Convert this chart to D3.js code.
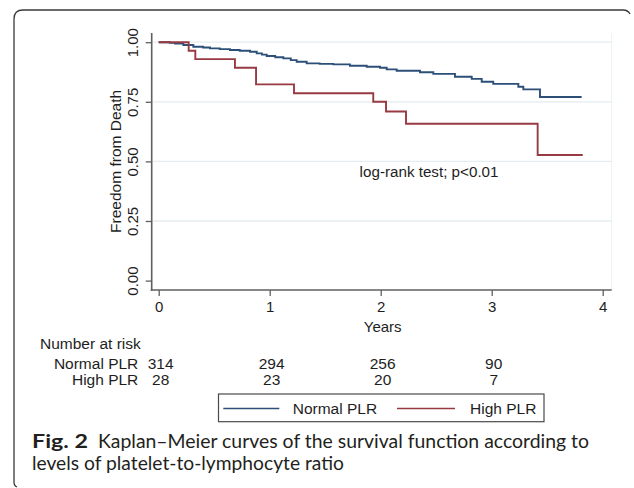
<!DOCTYPE html>
<html>
<head>
<meta charset="utf-8">
<script src="https://cdn.jsdelivr.net/npm/d3@7"></script>
<style>
  html, body { margin: 0; padding: 0; background: #fff; }
  svg { display: block; }
</style>
</head>
<body>
<div id="chart"></div>
<script>
(function(){
    "use strict";

    //====================================
    // data
    var seriesNames = ["Normal PLR", "High PLR"];
    var seriesColors = ["#2c4f78", "#983a42"];

    // Normal PLR: step times (years) and survival
    var normalTimes = [0, 0.10, 0.147, 0.222, 0.312, 0.40, 0.462, 0.55, 0.642, 0.73, 0.823, 0.883, 0.93,
        0.973, 1.05, 1.123, 1.19, 1.243, 1.333, 1.45, 1.573, 1.723, 1.874, 1.994, 2.054, 2.144,
        2.354, 2.474, 2.669, 2.82, 2.91, 3.014, 3.24, 3.285, 3.435];
    var normalSurv = [1, 0.997, 0.994, 0.988, 0.981, 0.978, 0.974, 0.971, 0.967, 0.964, 0.960, 0.953, 0.948,
        0.942, 0.937, 0.932, 0.925, 0.918, 0.911, 0.909, 0.907, 0.901, 0.897, 0.893, 0.886, 0.880,
        0.874, 0.867, 0.855, 0.846, 0.834, 0.825, 0.813, 0.802, 0.770];
    var normalEnd = 3.81;

    // High PLR
    var highTimes = [0, 0.27, 0.33, 0.687, 0.877, 1.219, 1.933, 2.048, 2.228, 3.414];
    var highSurv = [1, 0.964, 0.929, 0.893, 0.823, 0.786, 0.750, 0.709, 0.658, 0.527];
    var highEnd = 3.82;

    var xTicks = [0, 1, 2, 3, 4];
    var yTicks = [0, 0.25, 0.5, 0.75, 1];
    var gridValues = [0.25, 0.5, 0.75, 1];

    var riskTimes = [0, 1, 2, 3];
    var riskNormal = [314, 294, 256, 90];
    var riskHigh = [28, 23, 20, 7];

    var annotText = "log-rank test; p<0.01";
    var annotPos = [1.81, 0.435];

    var captionBold = "Fig. 2";
    var captionLines = ["Kaplan\u2013Meier curves of the survival function according to",
        "levels of platelet-to-lymphocyte ratio"];

    //====================================
    var W = 634, H = 488;
    var font = "'Liberation Sans', Arial, sans-serif";
    var ink = "#1e1e1e";
    var axisColor = "#5f5f5f";

    var svg = d3.select("#chart").append("svg")
        .attr("width", W)
        .attr("height", H)
        .style("font-family", font);

    // outer figure frame (open on the right and bottom)
    svg.append("path")
        .attr("d", "M630,14 Q628,10 623,10 L23,10 Q14,10 14,19 L14,482 Q14,486 17,487")
        .attr("fill", "none")
        .attr("stroke", "#3a3a3a")
        .attr("stroke-width", 1.3);

    var x = d3.scaleLinear().domain([0, 4]).range([158.7, 602.7]);
    var y = d3.scaleLinear().domain([0, 1]).range([280.6, 42.2]);

    var axisX = 151.7, axisY = 290, plotRight = 611.7, plotTop = 33;

    // faint plot region edge
    svg.append("line")
        .attr("x1", plotRight).attr("x2", plotRight)
        .attr("y1", plotTop).attr("y2", axisY)
        .attr("stroke", "#eef2f4").attr("stroke-width", 1);

    // grid
    svg.append("g").selectAll("line")
        .data(gridValues)
        .enter().append("line")
        .attr("x1", axisX + 1).attr("x2", plotRight)
        .attr("y1", function(d){ return y(d); })
        .attr("y2", function(d){ return y(d); })
        .attr("stroke", "#e6ecef")
        .attr("stroke-width", 1.3);

    // y axis
    var gy = svg.append("g")
        .attr("transform", "translate(" + axisX + ",0)")
        .call(d3.axisLeft(y).tickValues(yTicks).tickFormat(d3.format(".2f")).tickSize(6).tickSizeOuter(0));
    gy.select(".domain").remove();
    gy.selectAll(".tick line").attr("stroke", axisColor).attr("stroke-width", 1.3);
    gy.selectAll(".tick text")
        .attr("x", null).attr("dy", null)
        .attr("transform", "translate(-12,0) rotate(-90)")
        .attr("text-anchor", "middle")
        .attr("dominant-baseline", "auto")
        .attr("y", -2)
        .attr("fill", ink)
        .style("font-size", "15px")
        .style("font-family", font);
    svg.append("line")
        .attr("x1", axisX).attr("x2", axisX)
        .attr("y1", plotTop).attr("y2", axisY + 0.7)
        .attr("stroke", axisColor).attr("stroke-width", 1.6);

    // x axis
    var gx = svg.append("g")
        .attr("transform", "translate(0," + axisY + ")")
        .call(d3.axisBottom(x).tickValues(xTicks).tickFormat(d3.format("d")).tickSize(6).tickSizeOuter(0));
    gx.select(".domain").remove();
    gx.selectAll(".tick line").attr("stroke", axisColor).attr("stroke-width", 1.3);
    gx.selectAll(".tick text")
        .attr("y", 11).attr("dy", "0.71em")
        .attr("fill", ink)
        .style("font-size", "15px")
        .style("font-family", font);
    svg.append("line")
        .attr("x1", axisX - 1).attr("x2", plotRight)
        .attr("y1", axisY).attr("y2", axisY)
        .attr("stroke", axisColor).attr("stroke-width", 1.6);

    // axis titles
    svg.append("text")
        .attr("transform", "translate(121," + ((y(0) + y(1)) / 2) + ") rotate(-90)")
        .attr("text-anchor", "middle")
        .attr("fill", ink)
        .style("font-size", "15.5px")
        .text("Freedom from Death");
    svg.append("text")
        .attr("x", x(2) + 2).attr("y", 332)
        .attr("text-anchor", "middle")
        .attr("fill", ink)
        .style("font-size", "15px")
        .text("Years");

    // KM step curves
    function stepPoints(times, surv, end){
        var pts = times.map(function(t, i){ return [t, surv[i]]; });
        pts.push([end, surv[surv.length - 1]]);
        return pts;
    }
    var line = d3.line()
        .x(function(d){ return x(d[0]); })
        .y(function(d){ return y(d[1]); })
        .curve(d3.curveStepAfter);

    var curves = [stepPoints(normalTimes, normalSurv, normalEnd), stepPoints(highTimes, highSurv, highEnd)];
    svg.append("g").selectAll("path")
        .data(curves)
        .enter().append("path")
        .attr("d", line)
        .attr("fill", "none")
        .attr("stroke", function(d, i){ return seriesColors[i]; })
        .attr("stroke-width", 1.9);

    // annotation
    svg.append("text")
        .attr("x", x(annotPos[0])).attr("y", y(annotPos[1]))
        .attr("fill", ink)
        .style("font-size", "15.2px")
        .text(annotText);

    // number at risk table
    svg.append("text")
        .attr("x", 40).attr("y", 349)
        .attr("fill", ink)
        .style("font-size", "15.5px")
        .text("Number at risk");
    var riskRows = [riskNormal, riskHigh];
    var rowBase = [369, 385];
    riskRows.forEach(function(row, r){
        svg.append("text")
            .attr("x", 138.3).attr("y", rowBase[r])
            .attr("text-anchor", "end")
            .attr("fill", ink)
            .style("font-size", "15.5px")
            .text(seriesNames[r]);
        svg.append("g").selectAll("text")
            .data(row)
            .enter().append("text")
            .attr("x", function(d, i){ return x(riskTimes[i]) + 2; })
            .attr("y", rowBase[r])
            .attr("text-anchor", "middle")
            .attr("fill", ink)
            .style("font-size", "15.5px")
            .text(function(d){ return d; });
    });

    // legend
    var lg = svg.append("g");
    lg.append("rect")
        .attr("x", 218.5).attr("y", 394)
        .attr("width", 325.5).attr("height", 27.7)
        .attr("fill", "#fff")
        .attr("stroke", "#4a4a4a")
        .attr("stroke-width", 1.2);
    var legendLineX = [223.3, 397];
    var legendLineW = [56, 58];
    var legendTextX = [292.7, 470];
    seriesNames.forEach(function(name, i){
        lg.append("line")
            .attr("x1", legendLineX[i]).attr("x2", legendLineX[i] + legendLineW[i])
            .attr("y1", 408.5).attr("y2", 408.5)
            .attr("stroke", seriesColors[i])
            .attr("stroke-width", 1.5);
        lg.append("text")
            .attr("x", legendTextX[i]).attr("y", 414)
            .attr("fill", ink)
            .style("font-size", "15.5px")
            .text(name);
    });

    // caption: separate pieces, squeezed to the widths seen in the figure
    var capFont = "Lato, 'Open Sans', sans-serif";
    var capSize = "18.5px";
    var capColor = "#231f20";
    svg.append("text")
        .attr("x", 32).attr("y", 447.5)
        .attr("fill", capColor)
        .attr("textLength", 56)
        .attr("lengthAdjust", "spacingAndGlyphs")
        .style("font-family", capFont)
        .style("font-size", capSize)
        .style("font-weight", "bold")
        .text(captionBold);
    svg.append("text")
        .attr("x", 98).attr("y", 447.5)
        .attr("fill", capColor)
        .attr("textLength", 491)
        .attr("lengthAdjust", "spacingAndGlyphs")
        .style("font-family", capFont)
        .style("font-size", capSize)
        .text(captionLines[0]);
    svg.append("text")
        .attr("x", 32).attr("y", 470)
        .attr("fill", capColor)
        .attr("textLength", 312)
        .attr("lengthAdjust", "spacingAndGlyphs")
        .style("font-family", capFont)
        .style("font-size", capSize)
        .text(captionLines[1]);
})();
</script>
</body>
</html>
